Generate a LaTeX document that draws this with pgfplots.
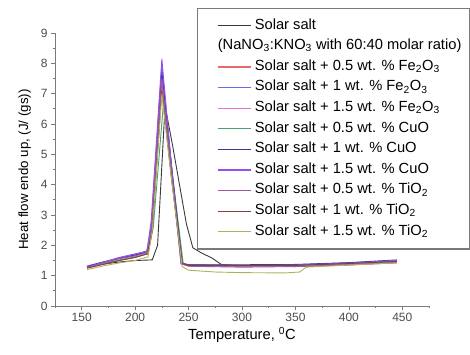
\documentclass[border=0pt]{standalone}
\usepackage{pgfplots}
\pgfplotsset{compat=1.18}
\usepackage{fontspec}
\setmainfont{Liberation Sans}
\definecolor{cblack}{HTML}{3A3A3A}
\definecolor{cred}{HTML}{E86A6A}
\definecolor{cblue}{HTML}{6A6AEE}
\definecolor{cmag}{HTML}{E070D8}
\definecolor{cgreen}{HTML}{4FA070}
\definecolor{cnavy}{HTML}{3A3A96}
\definecolor{cviolet}{HTML}{9450EE}
\definecolor{cmauve}{HTML}{A058A0}
\definecolor{cbrown}{HTML}{804040}
\definecolor{colive}{HTML}{B0B060}
\definecolor{axgray}{HTML}{7A7A7A}
\pgfplotsset{legend image code/.code={\path (0cm,0cm); \draw[#1, line width=1.1pt] (0.45cm,0cm) -- (1.62cm,0cm); \path (1.7cm,0cm);}}
\begin{document}
\begin{tikzpicture}
\begin{axis}[
  scale only axis, width=374pt, height=273pt,
  xmin=125, xmax=475, ymin=0, ymax=9,
  axis lines=left, axis line style={-, draw=axgray, line width=0.8pt},
  xtick={150,200,...,450}, minor xtick={125,175,...,475},
  ytick={0,1,...,9}, minor ytick={0.5,1.5,...,8.5},
  tick align=outside, major tick length=4pt, minor tick length=2pt,
  every tick/.style={draw=axgray, line width=0.7pt},
  tick label style={font=\fontsize{12}{14}\selectfont, text=black!70},
  /pgf/number format/assume math mode=true,
  xlabel={Temperature, \textsuperscript{0}C},
  ylabel={Heat flow endo up, (J/ (gs))},
  xlabel style={font=\fontsize{14.7}{17}\selectfont, yshift=2pt},
  ylabel style={font=\fontsize{13.3}{16}\selectfont, yshift=3pt},
  legend style={at={(1.1096,1.0916)}, anchor=north east, draw=axgray, line width=1.1pt,
    font=\fontsize{14.7}{17}\selectfont, fill=white,
    nodes={inner sep=1pt, text height=10.5pt, text depth=4pt},
    row sep=4.1pt, inner xsep=7pt, inner ysep=9pt},
  legend cell align=left,
  every axis plot/.append style={line width=0.9pt},
]
\addplot[cblack] coordinates {(155,1.30) (170,1.38) (185,1.45) (200,1.50) (216,1.52) (221,2.0) (228,6.6) (235,5.3) (242,3.9) (248,2.7) (254,1.92) (262,1.75) (272,1.58) (281,1.36) (300,1.33) (350,1.30) (400,1.37) (445,1.46)};
\addlegendentry{Solar salt}
\addlegendimage{empty legend}
\addlegendentry{\hspace{-37pt}(NaNO\textsubscript{3}:KNO\textsubscript{3} with 60:40 molar ratio)}
\addplot[cred] coordinates {(155,1.25) (170,1.38) (185,1.50) (200,1.60) (212,1.75) (216,2.6) (225,7.3) (234,4.3) (244,1.40) (250,1.33) (300,1.30) (350,1.32) (400,1.38) (445,1.45)};
\addlegendentry{Solar salt + 0.5 wt. \% Fe\textsubscript{2}O\textsubscript{3}}
\addplot[cblue] coordinates {(155,1.32) (170,1.45) (185,1.58) (200,1.70) (211,1.82) (215,2.6) (225,7.95) (234,4.6) (244,1.42) (250,1.36) (300,1.34) (350,1.36) (400,1.42) (445,1.50)};
\addlegendentry{Solar salt + 1 wt. \% Fe\textsubscript{2}O\textsubscript{3}}
\addplot[cmag] coordinates {(155,1.27) (170,1.43) (185,1.58) (200,1.68) (211,1.78) (215,2.5) (225,7.6) (234,4.4) (243,1.38) (250,1.32) (300,1.30) (350,1.31) (400,1.36) (445,1.42)};
\addlegendentry{Solar salt + 1.5 wt. \% Fe\textsubscript{2}O\textsubscript{3}}
\addplot[cgreen] coordinates {(155,1.30) (170,1.40) (185,1.52) (200,1.62) (212,1.72) (217,2.6) (227,6.9) (236,4.0) (245,1.40) (250,1.35) (300,1.33) (350,1.33) (400,1.40) (445,1.46)};
\addlegendentry{Solar salt + 0.5 wt. \% CuO}
\addplot[cnavy] coordinates {(155,1.30) (170,1.45) (185,1.57) (200,1.68) (212,1.80) (216,2.7) (225,7.7) (235,4.3) (244,1.40) (250,1.36) (300,1.36) (350,1.37) (400,1.43) (445,1.52)};
\addlegendentry{Solar salt + 1 wt. \% CuO}
\addplot[cviolet] coordinates {(155,1.28) (170,1.44) (185,1.60) (200,1.72) (211,1.80) (215,2.8) (225,8.15) (234,4.6) (243,1.40) (250,1.34) (300,1.33) (350,1.35) (400,1.41) (445,1.50)};
\addlegendentry{Solar salt + 1.5 wt. \% CuO}
\addplot[cmauve] coordinates {(155,1.26) (170,1.42) (185,1.56) (200,1.65) (211,1.76) (215,2.5) (225,7.5) (234,4.4) (243,1.40) (250,1.31) (300,1.28) (350,1.30) (400,1.35) (445,1.43)};
\addlegendentry{Solar salt + 0.5 wt. \% TiO\textsubscript{2}}
\addplot[cbrown] coordinates {(155,1.25) (170,1.37) (185,1.50) (200,1.60) (212,1.72) (216,2.5) (225,7.1) (234,4.2) (244,1.40) (250,1.34) (300,1.33) (350,1.34) (400,1.40) (445,1.47)};
\addlegendentry{Solar salt + 1 wt. \% TiO\textsubscript{2}}
\addplot[colive] coordinates {(155,1.20) (170,1.32) (185,1.42) (200,1.50) (212,1.62) (216,2.5) (225,7.0) (234,4.2) (244,1.30) (250,1.18) (275,1.12) (300,1.10) (340,1.09) (354,1.12) (360,1.28) (400,1.35) (445,1.42)};
\addlegendentry{Solar salt + 1.5 wt. \% TiO\textsubscript{2}}
\end{axis}
\pgfresetboundingbox
\path ([shift={(-55pt,-49pt)}]current axis.south west) rectangle ([shift={(41pt,33pt)}]current axis.north east);
\end{tikzpicture}
\end{document}
